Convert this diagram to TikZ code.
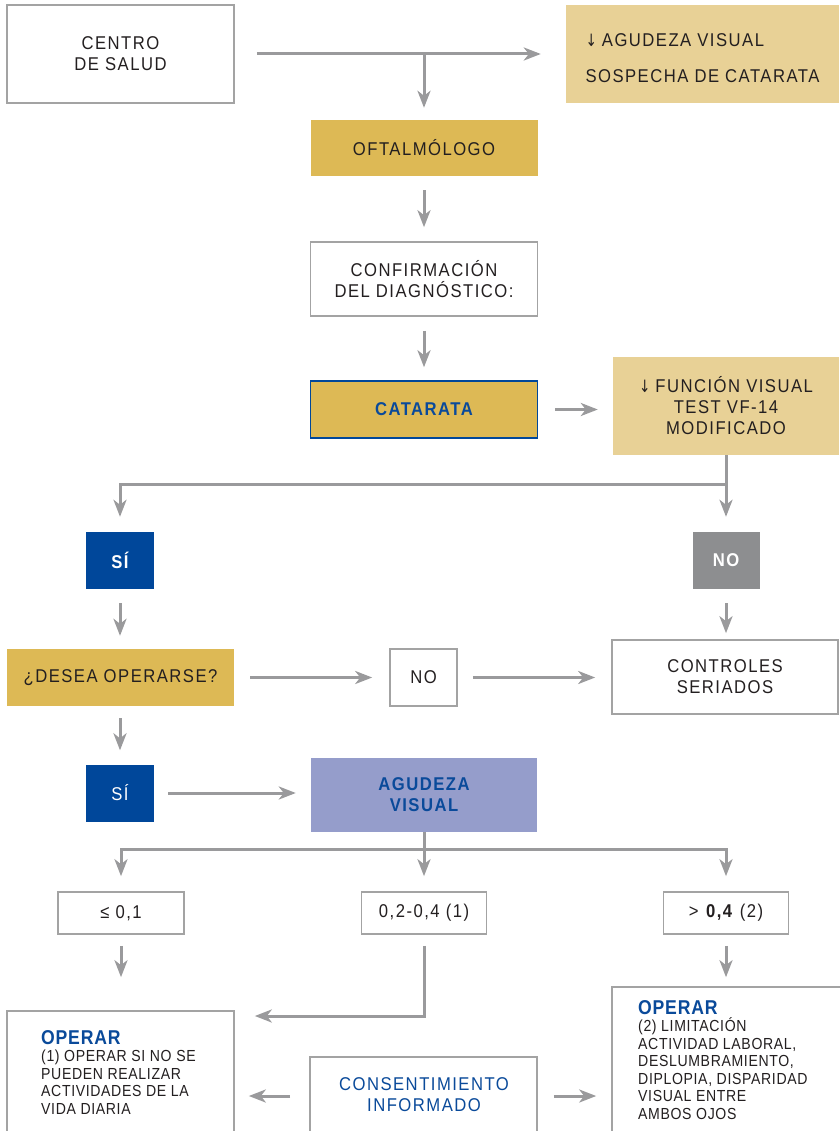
\documentclass[tikz,border=0pt]{standalone}
\usepackage{fontspec}
\setmainfont{Liberation Sans}[FakeStretch=0.9,LetterSpace=8]
\newfontfamily\smallf{Liberation Sans}[FakeStretch=0.88,LetterSpace=4]
\newfontfamily\symf{DejaVu Sans}[FakeStretch=0.8]
\usetikzlibrary{arrows.meta}
\definecolor{gold}{HTML}{DDB955}
\definecolor{tanc}{HTML}{E8D196}
\definecolor{dblue}{HTML}{00479A}
\definecolor{ngray}{HTML}{8D8E90}
\definecolor{lav}{HTML}{959DCB}
\definecolor{lgray}{HTML}{9A9A9C}
\definecolor{bord}{HTML}{A3A3A3}
\definecolor{txt}{HTML}{231F20}
\definecolor{tblue}{HTML}{0A4A9A}
\newcommand{\mainsz}{\fontsize{18.5}{21}\selectfont}
\newcommand{\smallsz}{\smallf\fontsize{16}{17.5}\selectfont}
\newcommand{\opsz}{\smallf\fontsize{20}{17.5}\selectfont\bfseries\color{tblue}}
\newcommand{\dnarr}{{\symf\fontsize{17}{17}\selectfont ↓}\hspace{5pt}}
\tikzset{
  base/.style={inner sep=0pt, align=center, font=\mainsz, text=txt},
  wbox/.style={base, draw=bord, line width=1.6pt, fill=white},
  gbox/.style={base, fill=gold},
  tbox/.style={base, fill=tanc},
  sibox/.style={base, fill=dblue, text=white, minimum width=68pt, minimum height=57pt},
  nobox/.style={base, fill=ngray, text=white, font=\mainsz\bfseries, minimum width=67pt, minimum height=57pt},
  lavbox/.style={base, fill=lav, text=tblue, font=\mainsz\bfseries},
  ln/.style={draw=lgray, line width=3pt},
  arr/.style={ln, -{Stealth[length=17pt,width=13pt,inset=5pt]}},
  small/.style={inner sep=0pt, text=txt, align=left, font=\smallsz},
}
\begin{document}
\begin{tikzpicture}[x=1pt,y=-1pt]
\useasboundingbox (0,0) rectangle (839,1131);
% row 1
\node[wbox, minimum width=227pt, minimum height=98pt] (centro) at (120.5,54) {CENTRO\\DE SALUD};
\node[tbox, minimum width=273pt, minimum height=98pt, align=left] (sosp) at (702.5,54) {\rule{0pt}{22pt}\dnarr AGUDEZA VISUAL\\[15pt]SOSPECHA DE CATARATA};
\node[gbox, minimum width=227pt, minimum height=56pt] (oft) at (424,148) {OFTALMÓLOGO};
\node[wbox, minimum width=227pt, minimum height=74pt] (conf) at (424,279) {CONFIRMACIÓN\\DEL DIAGNÓSTICO:};
\node[gbox, draw=dblue, line width=1.5pt, text=tblue, font=\mainsz\bfseries, minimum width=227pt, minimum height=57pt] (cat) at (424,409.5) {CATARATA};
\node[tbox, minimum width=226pt, minimum height=98pt] (func) at (726,406) {\dnarr FUNCIÓN VISUAL\\TEST VF-14\\MODIFICADO};
\coordinate (jA) at (424,484);
\node[sibox, font=\mainsz\bfseries] (si1) at (120,560.5) {SÍ};
\node[nobox] (no1) at (726,560.5) {NO};
\node[gbox, minimum width=227pt, minimum height=57pt] (desea) at (120.5,677.5) {¿DESEA OPERARSE?};
\node[wbox, minimum width=67pt, minimum height=57pt] (no2) at (423.5,677.5) {NO};
\node[wbox, minimum width=226pt, minimum height=74pt] (ctrl) at (725,677) {CONTROLES\\SERIADOS};
\node[sibox] (si2) at (120,793) {SÍ};
\node[lavbox, minimum width=226pt, minimum height=74pt] (agv) at (424,795) {AGUDEZA\\VISUAL};
\coordinate (jB) at (424,849);
\node[wbox, minimum width=126pt, minimum height=42pt] (b1) at (121,913) {≤ 0,1};
\node[wbox, minimum width=125pt, minimum height=42pt] (b2) at (424,913) {0,2-0,4 (1)};
\node[wbox, minimum width=125pt, minimum height=42pt] (b3) at (726,913) {> \textbf{0,4} (2)};
\coordinate (jC) at (424,1016);
\coordinate (jD) at (424,1096);
% bottom boxes
\node[wbox, minimum width=227pt, minimum height=159pt] (opL) at (120.5,1090.5) {};
\node[wbox, minimum width=227pt, minimum height=113pt] (cons) at (423.5,1113.5) {};
\node[wbox, minimum width=240pt, minimum height=183pt] (opR) at (732,1078.5) {};
\node[small, anchor=north west] (opLt) at (41,1030) {{\opsz OPERAR}\\(1) OPERAR SI NO SE\\PUEDEN REALIZAR\\ACTIVIDADES DE LA\\VIDA DIARIA};
\node[base, text=tblue, anchor=north] (consT) at (424,1077) {CONSENTIMIENTO\\INFORMADO};
\node[small, anchor=north west] (opRt) at (638,1000) {{\opsz OPERAR}\\(2) LIMITACIÓN\\ACTIVIDAD LABORAL,\\DESLUMBRAMIENTO,\\DIPLOPIA, DISPARIDAD\\VISUAL ENTRE\\AMBOS OJOS};
% connectors
\draw[arr, shorten <=22pt, shorten >=25pt] (centro) -- (centro -| sosp.west);
\draw[arr, shorten >=12pt] (oft.north |- centro) -- (oft.north);
\draw[arr, shorten <=14pt, shorten >=14pt] (oft) -- (conf);
\draw[arr, shorten <=14pt, shorten >=13pt] (conf) -- (cat);
\draw[arr, shorten <=17pt, shorten >=15pt] (cat.east) -- (cat.east -| func.west);
\draw[arr, shorten >=15pt] (func.south) -- (no1.north);
\draw[arr, shorten >=15pt] (func.south |- jA) -| (si1.north);
\draw[arr, shorten <=14pt, shorten >=13pt] (si1.south) -- (si1.south |- desea.north);
\draw[arr, shorten <=14pt, shorten >=6pt] (no1.south) -- (no1.south |- ctrl.north);
\draw[arr, shorten <=16pt, shorten >=17pt] (desea) -- (no2);
\draw[arr, shorten <=15pt, shorten >=16pt] (no2.east) -- (no2.east -| ctrl.west);
\draw[arr, shorten <=12pt, shorten >=14pt] (desea.south -| si2) -- (si2.north);
\draw[arr, shorten <=14pt, shorten >=15pt] (si2.east) -- (si2.east -| agv.west);
\draw[arr, shorten >=15pt] (agv.south) -- (b2.north);
\draw[arr, shorten >=15pt] (jB) -| (b1.north);
\draw[arr, shorten >=15pt] (jB) -| (b3.north);
\draw[arr, shorten <=11pt, shorten >=33pt] (b1.south) -- (b1.south |- opL.north);
\draw[arr, shorten <=11pt, shorten >=9pt] (b3.south) -- (b3.south |- opR.north);
\draw[arr, shorten <=11pt, shorten >=20pt] (b2.south) |- (opL.east |- jC);
\draw[arr, shorten <=19pt, shorten >=14pt] (cons.west |- jD) -- (opL.east |- jD);
\draw[arr, shorten <=16pt, shorten >=15pt] (cons.east |- jD) -- (opR.west |- jD);
\end{tikzpicture}
\end{document}
